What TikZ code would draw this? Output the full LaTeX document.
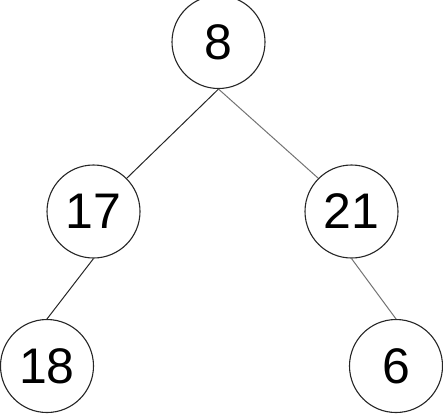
\documentclass[tikz,border=0pt]{standalone}
\usepackage{fontspec}
\setmainfont{Liberation Sans}
\begin{document}
\begin{tikzpicture}[x=1pt,y=-1pt,
  treenode/.style={circle,draw=black!85,line width=1.1pt,minimum size=93pt,inner sep=0pt,font=\fontsize{50}{50}\selectfont},
  darkedge/.style={draw=black!85,line width=1pt},
  lightedge/.style={draw=black!55,line width=1pt}]
\useasboundingbox (0,0) rectangle (443,413);
\node[treenode] (n8) at (218.5,42) {8};
\node[treenode] (n17) at (93.5,211.5) {17};
\node[treenode] (n21) at (351.5,211.5) {21};
\node[treenode] (n18) at (47,366) {18};
\node[treenode] (n6) at (396,366) {6};
\draw[darkedge] (n8.south) -- (n17.45);
\draw[lightedge] (n8.south) -- (n21.135);
\draw[darkedge] (n17.south) -- (n18.north);
\draw[lightedge] (n21.south) -- (n6.north);
\end{tikzpicture}
\end{document}
